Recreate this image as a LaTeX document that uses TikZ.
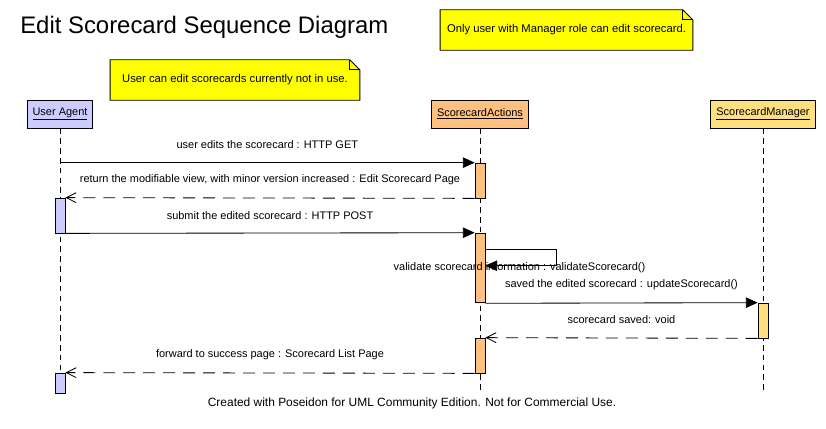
\documentclass[tikz,border=0pt]{standalone}
\usepackage{fontspec}
\setmainfont{Liberation Sans}
\usetikzlibrary{arrows.meta, positioning, backgrounds}
\definecolor{agentBlue}{RGB}{204,204,255}
\definecolor{actionsOrange}{RGB}{255,192,128}
\definecolor{managerYellow}{RGB}{255,224,128}
\definecolor{noteYellow}{RGB}{255,255,0}
\tikzset{
    headBox/.style={
        rectangle,
        draw=black,
        line width=0.6pt,
        inner xsep=3.9pt,
        minimum height=19.8pt,
        font=\fontsize{7.8}{9}\selectfont
    },
    actBar/.style={
        rectangle,
        draw=black,
        line width=0.6pt,
        inner sep=0pt,
        minimum width=7pt,
        minimum height=#1*0.7087pt
    },
    lifeLine/.style={
        line width=0.6pt,
        dash pattern=on 4pt off 3pt
    },
    callMsg/.style={
        line width=0.6pt,
        -{Triangle[length=8.4pt, width=7.5pt]}
    },
    replyMsg/.style={
        line width=0.6pt,
        dash pattern=on 8.5pt off 5.7pt,
        -{Straight Barb[length=7pt, width=7pt, line width=0.6pt]}
    },
    msgText/.style={
        midway,
        yshift=12.75pt,
        font=\fontsize{7.8}{9}\selectfont
    },
    noteText/.style={
        rectangle,
        inner sep=0pt,
        font=\fontsize{8}{9.5}\selectfont
    },
    noteBox/.style={
        draw=black,
        fill=noteYellow,
        line width=0.6pt
    }
}

\begin{document}
\begin{tikzpicture}[x=0.025cm, y=-0.025cm]
    \useasboundingbox (0,0) rectangle (826,428);

    % Title and footer
    \node[anchor=west, inner sep=0pt, font=\fontsize{17}{20}\selectfont] (title) at (20,27) {Edit Scorecard Sequence Diagram};
    \node[inner sep=0pt, font=\fontsize{8.5}{10}\selectfont] (footer) at (412,403) {Created with Poseidon for UML Community Edition. Not for Commercial Use.};

    % Notes
    \node[noteText, minimum width=177.2pt, minimum height=28.3pt] (noteUse) at (235,80) {User can edit scorecards currently not in use.};
    \node[noteText, minimum width=179.3pt, minimum height=28.3pt] (noteRole) at (566.5,30) {Only user with Manager role can edit scorecard.};
    \begin{scope}[on background layer]
        \draw[noteBox] (noteUse.north west) -- ([shift={(-10,0)}]noteUse.north east) -- ([shift={(0,10)}]noteUse.north east)
            -- (noteUse.south east) -- (noteUse.south west) -- cycle;
        \draw[noteBox] (noteRole.north west) -- ([shift={(-10,0)}]noteRole.north east) -- ([shift={(0,10)}]noteRole.north east)
            -- (noteRole.south east) -- (noteRole.south west) -- cycle;
    \end{scope}
    \draw[line width=0.6pt] ([shift={(-10,0)}]noteUse.north east) |- ([shift={(0,10)}]noteUse.north east);
    \draw[line width=0.6pt] ([shift={(-10,0)}]noteRole.north east) |- ([shift={(0,10)}]noteRole.north east);

    % Lifeline heads
    \node[headBox, fill=agentBlue] (ua) at (60,114) {\underline{User Agent}};
    \node[headBox, fill=actionsOrange] (sa) at (480,114) {\underline{ScorecardActions}};
    \node[headBox, fill=managerYellow] (sm) at (763,114) {\underline{ScorecardManager}};

    % Lifelines
    \coordinate (lifeEnd) at (0,392);
    \draw[lifeLine] (ua.south) -- (ua |- lifeEnd);
    \draw[lifeLine] (sa.south) -- (sa |- lifeEnd);
    \draw[lifeLine] (sm.south) -- (sm |- lifeEnd);

    % Activation bars
    \node[actBar=35, fill=agentBlue] (uaAct1) at (60,215.5) {};
    \node[actBar=20, fill=agentBlue] (uaAct2) at (60,383) {};
    \node[actBar=35, fill=actionsOrange] (saAct1) at (480,180.5) {};
    \node[actBar=70, fill=actionsOrange] (saAct2) at (480,268) {};
    \node[actBar=35, fill=actionsOrange] (saAct3) at (480,355.5) {};
    \node[actBar=35, fill=managerYellow] (smAct1) at (763,320.5) {};

    % Messages
    \draw[callMsg] (ua |- saAct1.north) -- (saAct1.north west)
        node[msgText] {user edits the scorecard : HTTP GET};
    \draw[replyMsg] (saAct1.south west) -- (uaAct1.north east)
        node[msgText] {return the modifiable view, with minor version increased : Edit Scorecard Page};
    \draw[callMsg] (uaAct1.south east) -- (saAct2.north west)
        node[msgText] {submit the edited scorecard : HTTP POST};
    \draw[callMsg] ([shift={(0,17)}]saAct2.north east) -- ++(71,0) -- ++(0,16) -- ([shift={(0,33)}]saAct2.north east);
    \node[font=\fontsize{7.8}{9}\selectfont] (selfLabel) at (519.5,268) {validate scorecard information : validateScorecard()};
    \draw[callMsg] (saAct2.south east) -- (smAct1.north west)
        node[msgText] {saved the edited scorecard : updateScorecard()};
    \draw[replyMsg] (smAct1.south west) -- (saAct3.north east)
        node[msgText] {scorecard saved: void};
    \draw[replyMsg] (saAct3.south west) -- (uaAct2.north east)
        node[msgText] {forward to success page : Scorecard List Page};
\end{tikzpicture}
\end{document}
